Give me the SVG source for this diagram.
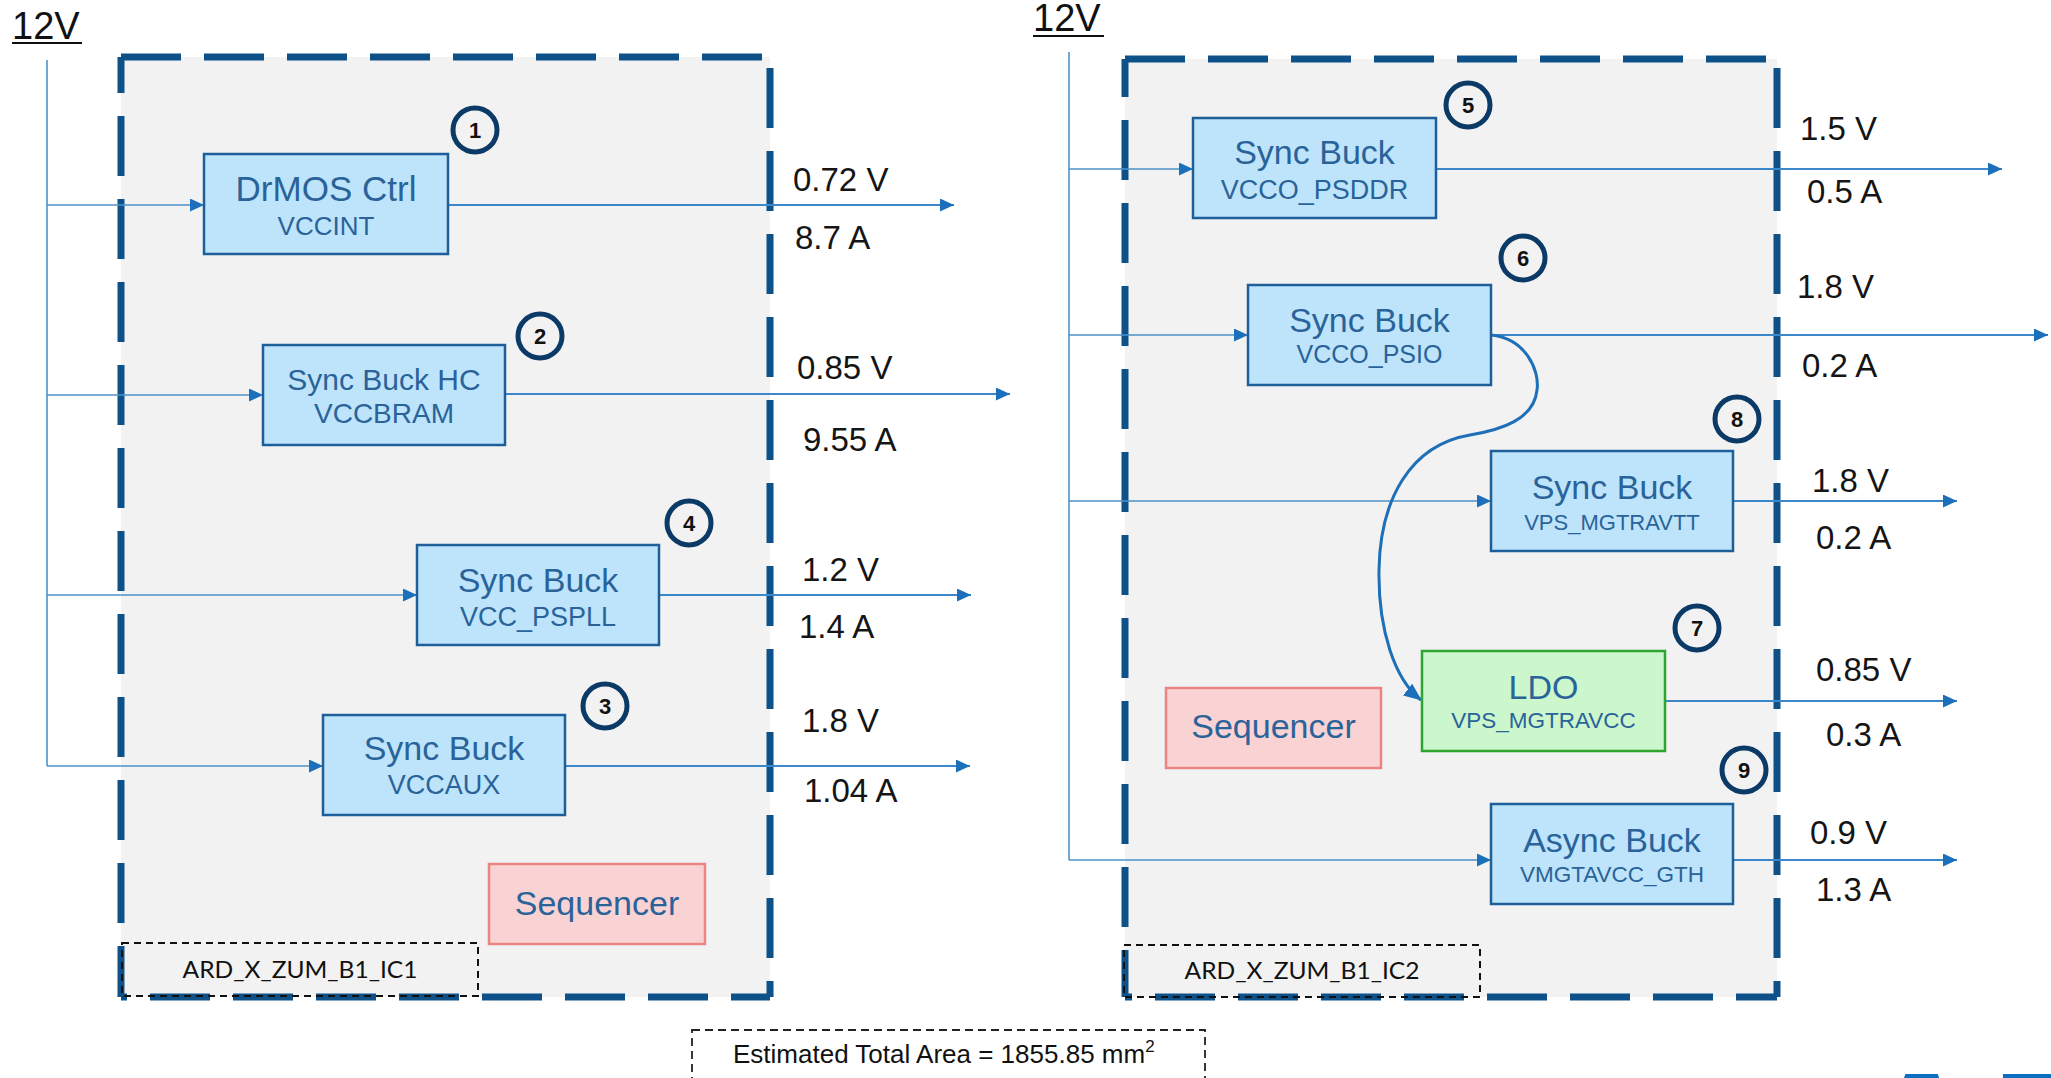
<svg xmlns="http://www.w3.org/2000/svg" width="2051" height="1078" viewBox="0 0 2051 1078">
  <defs>
    <marker id="arr" viewBox="0 0 14 13" refX="14" refY="6.5" markerWidth="14" markerHeight="13" markerUnits="userSpaceOnUse" orient="auto">
      <path d="M0,0 L14,6.5 L0,13 z" fill="#1b6fbb"/>
    </marker>
    <marker id="arrBig" viewBox="0 0 18 15" refX="17" refY="7.5" markerWidth="18" markerHeight="15" markerUnits="userSpaceOnUse" orient="auto">
      <path d="M0,0 L18,7.5 L0,15 z" fill="#1b6fbb"/>
    </marker>
    <style>
      text { font-family: "Liberation Sans", Arial, sans-serif; }
      .panel { fill: #f2f2f2; stroke: none; }
      .edge { stroke: #0e5189; stroke-width: 7; stroke-dasharray: 60 23; fill: none; }
      .conv { fill: #bde4fa; stroke: #1f5f99; stroke-width: 2.5; }
      .ldo { fill: #ccf6cc; stroke: #2ea52e; stroke-width: 2.5; }
      .seq { fill: #f9d2d3; stroke: #ea8585; stroke-width: 2.5; }
      .t1 { fill: #2a6399; text-anchor: middle; }
      .num { fill: none; stroke: #0c3a66; stroke-width: 5; }
      .numt { font-weight: bold; font-size: 22px; fill: #111; text-anchor: middle; }
      .bus { stroke: #4d92c9; stroke-width: 1.6; fill: none; }
      .in { stroke: #4d92c9; stroke-width: 1.6; fill: none; marker-end: url(#arr); }
      .out { stroke: #3a87c9; stroke-width: 2; fill: none; marker-end: url(#arr); }
      .val { font-size: 33px; fill: #151515; }
      .tag { fill: none; stroke: #111; stroke-width: 2; stroke-dasharray: 7 5; }
      .tagt { font-family: Lato, "Liberation Sans", sans-serif; font-size: 24px; fill: #111; text-anchor: middle; }
      .rail { font-size: 38px; fill: #111; }
    </style>
  </defs>

  <!-- supply rails -->
  <g id="rail-left">
    <text class="rail" x="12" y="39">12V</text>
    <rect x="12" y="42" width="70" height="2" fill="#111"/>
  </g>
  <g id="rail-right">
    <text class="rail" x="1033" y="31">12V</text>
    <rect x="1033" y="35" width="71" height="2" fill="#111"/>
  </g>

  <!-- IC1 outline -->
  <g id="ic1">
    <rect class="panel" x="121" y="57" width="649" height="940"/>
    <line class="edge" x1="121" y1="57" x2="770" y2="57" stroke-dashoffset="0"/>
    <line class="edge" x1="770" y1="57" x2="770" y2="997" stroke-dashoffset="72"/>
    <line class="edge" x1="121" y1="997" x2="770" y2="997" stroke-dashoffset="54"/>
    <line class="edge" x1="121" y1="57" x2="121" y2="997" stroke-dashoffset="24"/>
  </g>

  <!-- IC2 outline -->
  <g id="ic2">
    <rect class="panel" x="1125" y="59" width="652" height="938"/>
    <line class="edge" x1="1125" y1="59" x2="1777" y2="59" stroke-dashoffset="0"/>
    <line class="edge" x1="1777" y1="59" x2="1777" y2="997" stroke-dashoffset="74"/>
    <line class="edge" x1="1125" y1="997" x2="1777" y2="997" stroke-dashoffset="53"/>
    <line class="edge" x1="1125" y1="59" x2="1125" y2="997" stroke-dashoffset="22"/>
  </g>

  <!-- connectors -->
  <g id="connectors">
    <line class="bus" x1="47" y1="60" x2="47" y2="766"/>
    <line class="in" x1="47" y1="205" x2="204" y2="205"/>
    <line class="in" x1="47" y1="395" x2="263" y2="395"/>
    <line class="in" x1="47" y1="595" x2="417" y2="595"/>
    <line class="in" x1="47" y1="766" x2="323" y2="766"/>
    <line class="out" x1="448" y1="205" x2="954" y2="205"/>
    <line class="out" x1="505" y1="394" x2="1010" y2="394"/>
    <line class="out" x1="659" y1="595" x2="971" y2="595"/>
    <line class="out" x1="565" y1="766" x2="970" y2="766"/>

    <line class="bus" x1="1069" y1="52" x2="1069" y2="860"/>
    <line class="in" x1="1069" y1="169" x2="1193" y2="169"/>
    <line class="in" x1="1069" y1="335" x2="1248" y2="335"/>
    <line class="in" x1="1069" y1="501" x2="1491" y2="501"/>
    <line class="in" x1="1069" y1="860" x2="1491" y2="860"/>
    <line class="out" x1="1436" y1="169" x2="2002" y2="169"/>
    <line class="out" x1="1491" y1="335" x2="2048" y2="335"/>
    <line class="out" x1="1733" y1="501" x2="1957" y2="501"/>
    <line class="out" x1="1665" y1="701" x2="1957" y2="701"/>
    <line class="out" x1="1733" y1="860" x2="1957" y2="860"/>
    <path d="M1491,335 C1525,338 1540,370 1537,390 C1534,420 1500,430 1470,435 C1410,445 1380,500 1379,570 C1378,630 1395,680 1421,700" fill="none" stroke="#1d6fb7" stroke-width="3" marker-end="url(#arrBig)"/>
  </g>

  <!-- output ratings -->
  <g id="ratings">
    <text class="val" x="793" y="191">0.72 V</text>
    <text class="val" x="795" y="249">8.7 A</text>
    <text class="val" x="797" y="379">0.85 V</text>
    <text class="val" x="803" y="451">9.55 A</text>
    <text class="val" x="802" y="581">1.2 V</text>
    <text class="val" x="799" y="638">1.4 A</text>
    <text class="val" x="802" y="732">1.8 V</text>
    <text class="val" x="804" y="802">1.04 A</text>

    <text class="val" x="1800" y="140">1.5 V</text>
    <text class="val" x="1807" y="203">0.5 A</text>
    <text class="val" x="1797" y="298">1.8 V</text>
    <text class="val" x="1802" y="377">0.2 A</text>
    <text class="val" x="1812" y="492">1.8 V</text>
    <text class="val" x="1816" y="549">0.2 A</text>
    <text class="val" x="1816" y="681">0.85 V</text>
    <text class="val" x="1826" y="746">0.3 A</text>
    <text class="val" x="1810" y="844">0.9 V</text>
    <text class="val" x="1816" y="901">1.3 A</text>
  </g>

  <!-- regulators -->
  <g id="reg1">
    <rect class="conv" x="204" y="154" width="244" height="100"/>
    <text class="t1" x="326" y="201" font-size="35">DrMOS Ctrl</text>
    <text class="t1" x="326" y="235" font-size="26">VCCINT</text>
    <circle class="num" cx="475" cy="130" r="22"/>
    <text class="numt" x="475" y="138">1</text>
  </g>
  <g id="reg2">
    <rect class="conv" x="263" y="345" width="242" height="100"/>
    <text class="t1" x="384" y="390" font-size="30">Sync Buck HC</text>
    <text class="t1" x="384" y="423" font-size="28">VCCBRAM</text>
    <circle class="num" cx="540" cy="336" r="22"/>
    <text class="numt" x="540" y="344">2</text>
  </g>
  <g id="reg4">
    <rect class="conv" x="417" y="545" width="242" height="100"/>
    <text class="t1" x="538" y="592" font-size="34">Sync Buck</text>
    <text class="t1" x="538" y="626" font-size="27">VCC_PSPLL</text>
    <circle class="num" cx="689" cy="523" r="22"/>
    <text class="numt" x="689" y="531">4</text>
  </g>
  <g id="reg3">
    <rect class="conv" x="323" y="715" width="242" height="100"/>
    <text class="t1" x="444" y="760" font-size="34">Sync Buck</text>
    <text class="t1" x="444" y="794" font-size="27">VCCAUX</text>
    <circle class="num" cx="605" cy="706" r="22"/>
    <text class="numt" x="605" y="714">3</text>
  </g>
  <g id="seq1">
    <rect class="seq" x="489" y="864" width="216" height="80"/>
    <text class="t1" x="597" y="915" font-size="34">Sequencer</text>
  </g>
  <g id="tag1">
    <rect class="tag" x="122" y="943" width="356" height="53"/>
    <text class="tagt" x="300" y="978" textLength="235" lengthAdjust="spacingAndGlyphs">ARD_X_ZUM_B1_IC1</text>
  </g>

  <g id="reg5">
    <rect class="conv" x="1193" y="118" width="243" height="100"/>
    <text class="t1" x="1314.5" y="164" font-size="34">Sync Buck</text>
    <text class="t1" x="1314.5" y="199" font-size="27">VCCO_PSDDR</text>
    <circle class="num" cx="1468" cy="105" r="22"/>
    <text class="numt" x="1468" y="113">5</text>
  </g>
  <g id="reg6">
    <rect class="conv" x="1248" y="285" width="243" height="100"/>
    <text class="t1" x="1369.5" y="332" font-size="34">Sync Buck</text>
    <text class="t1" x="1369.5" y="363" font-size="25">VCCO_PSIO</text>
    <circle class="num" cx="1523" cy="258" r="22"/>
    <text class="numt" x="1523" y="266">6</text>
  </g>
  <g id="reg8">
    <rect class="conv" x="1491" y="451" width="242" height="100"/>
    <text class="t1" x="1612" y="499" font-size="34">Sync Buck</text>
    <text class="t1" x="1612" y="530" font-size="22">VPS_MGTRAVTT</text>
    <circle class="num" cx="1737" cy="419" r="22"/>
    <text class="numt" x="1737" y="427">8</text>
  </g>
  <g id="reg7">
    <rect class="ldo" x="1422" y="651" width="243" height="100"/>
    <text class="t1" x="1543.5" y="699" font-size="34">LDO</text>
    <text class="t1" x="1543.5" y="728" font-size="22.5">VPS_MGTRAVCC</text>
    <circle class="num" cx="1697" cy="628" r="22"/>
    <text class="numt" x="1697" y="636">7</text>
  </g>
  <g id="reg9">
    <rect class="conv" x="1491" y="804" width="242" height="100"/>
    <text class="t1" x="1612" y="852" font-size="34">Async Buck</text>
    <text class="t1" x="1612" y="882" font-size="22.5">VMGTAVCC_GTH</text>
    <circle class="num" cx="1744" cy="770" r="22"/>
    <text class="numt" x="1744" y="778">9</text>
  </g>
  <g id="seq2">
    <rect class="seq" x="1166" y="688" width="215" height="80"/>
    <text class="t1" x="1273.5" y="738" font-size="34">Sequencer</text>
  </g>
  <g id="tag2">
    <rect class="tag" x="1124" y="945" width="356" height="52"/>
    <text class="tagt" x="1302" y="979" textLength="235" lengthAdjust="spacingAndGlyphs">ARD_X_ZUM_B1_IC2</text>
  </g>

  <!-- total area note -->
  <g id="area">
    <rect x="692" y="1030" width="513" height="80" fill="none" stroke="#222" stroke-width="1.8" stroke-dasharray="8 5"/>
    <text x="733" y="1063" font-size="26" fill="#111">Estimated Total Area = 1855.85 mm<tspan font-size="17" dy="-11">2</tspan></text>
  </g>

  <!-- logo, clipped by the lower edge -->
  <text x="1853" y="1204" font-size="190" font-weight="bold" fill="#0b6ec0">AD</text>
</svg>
